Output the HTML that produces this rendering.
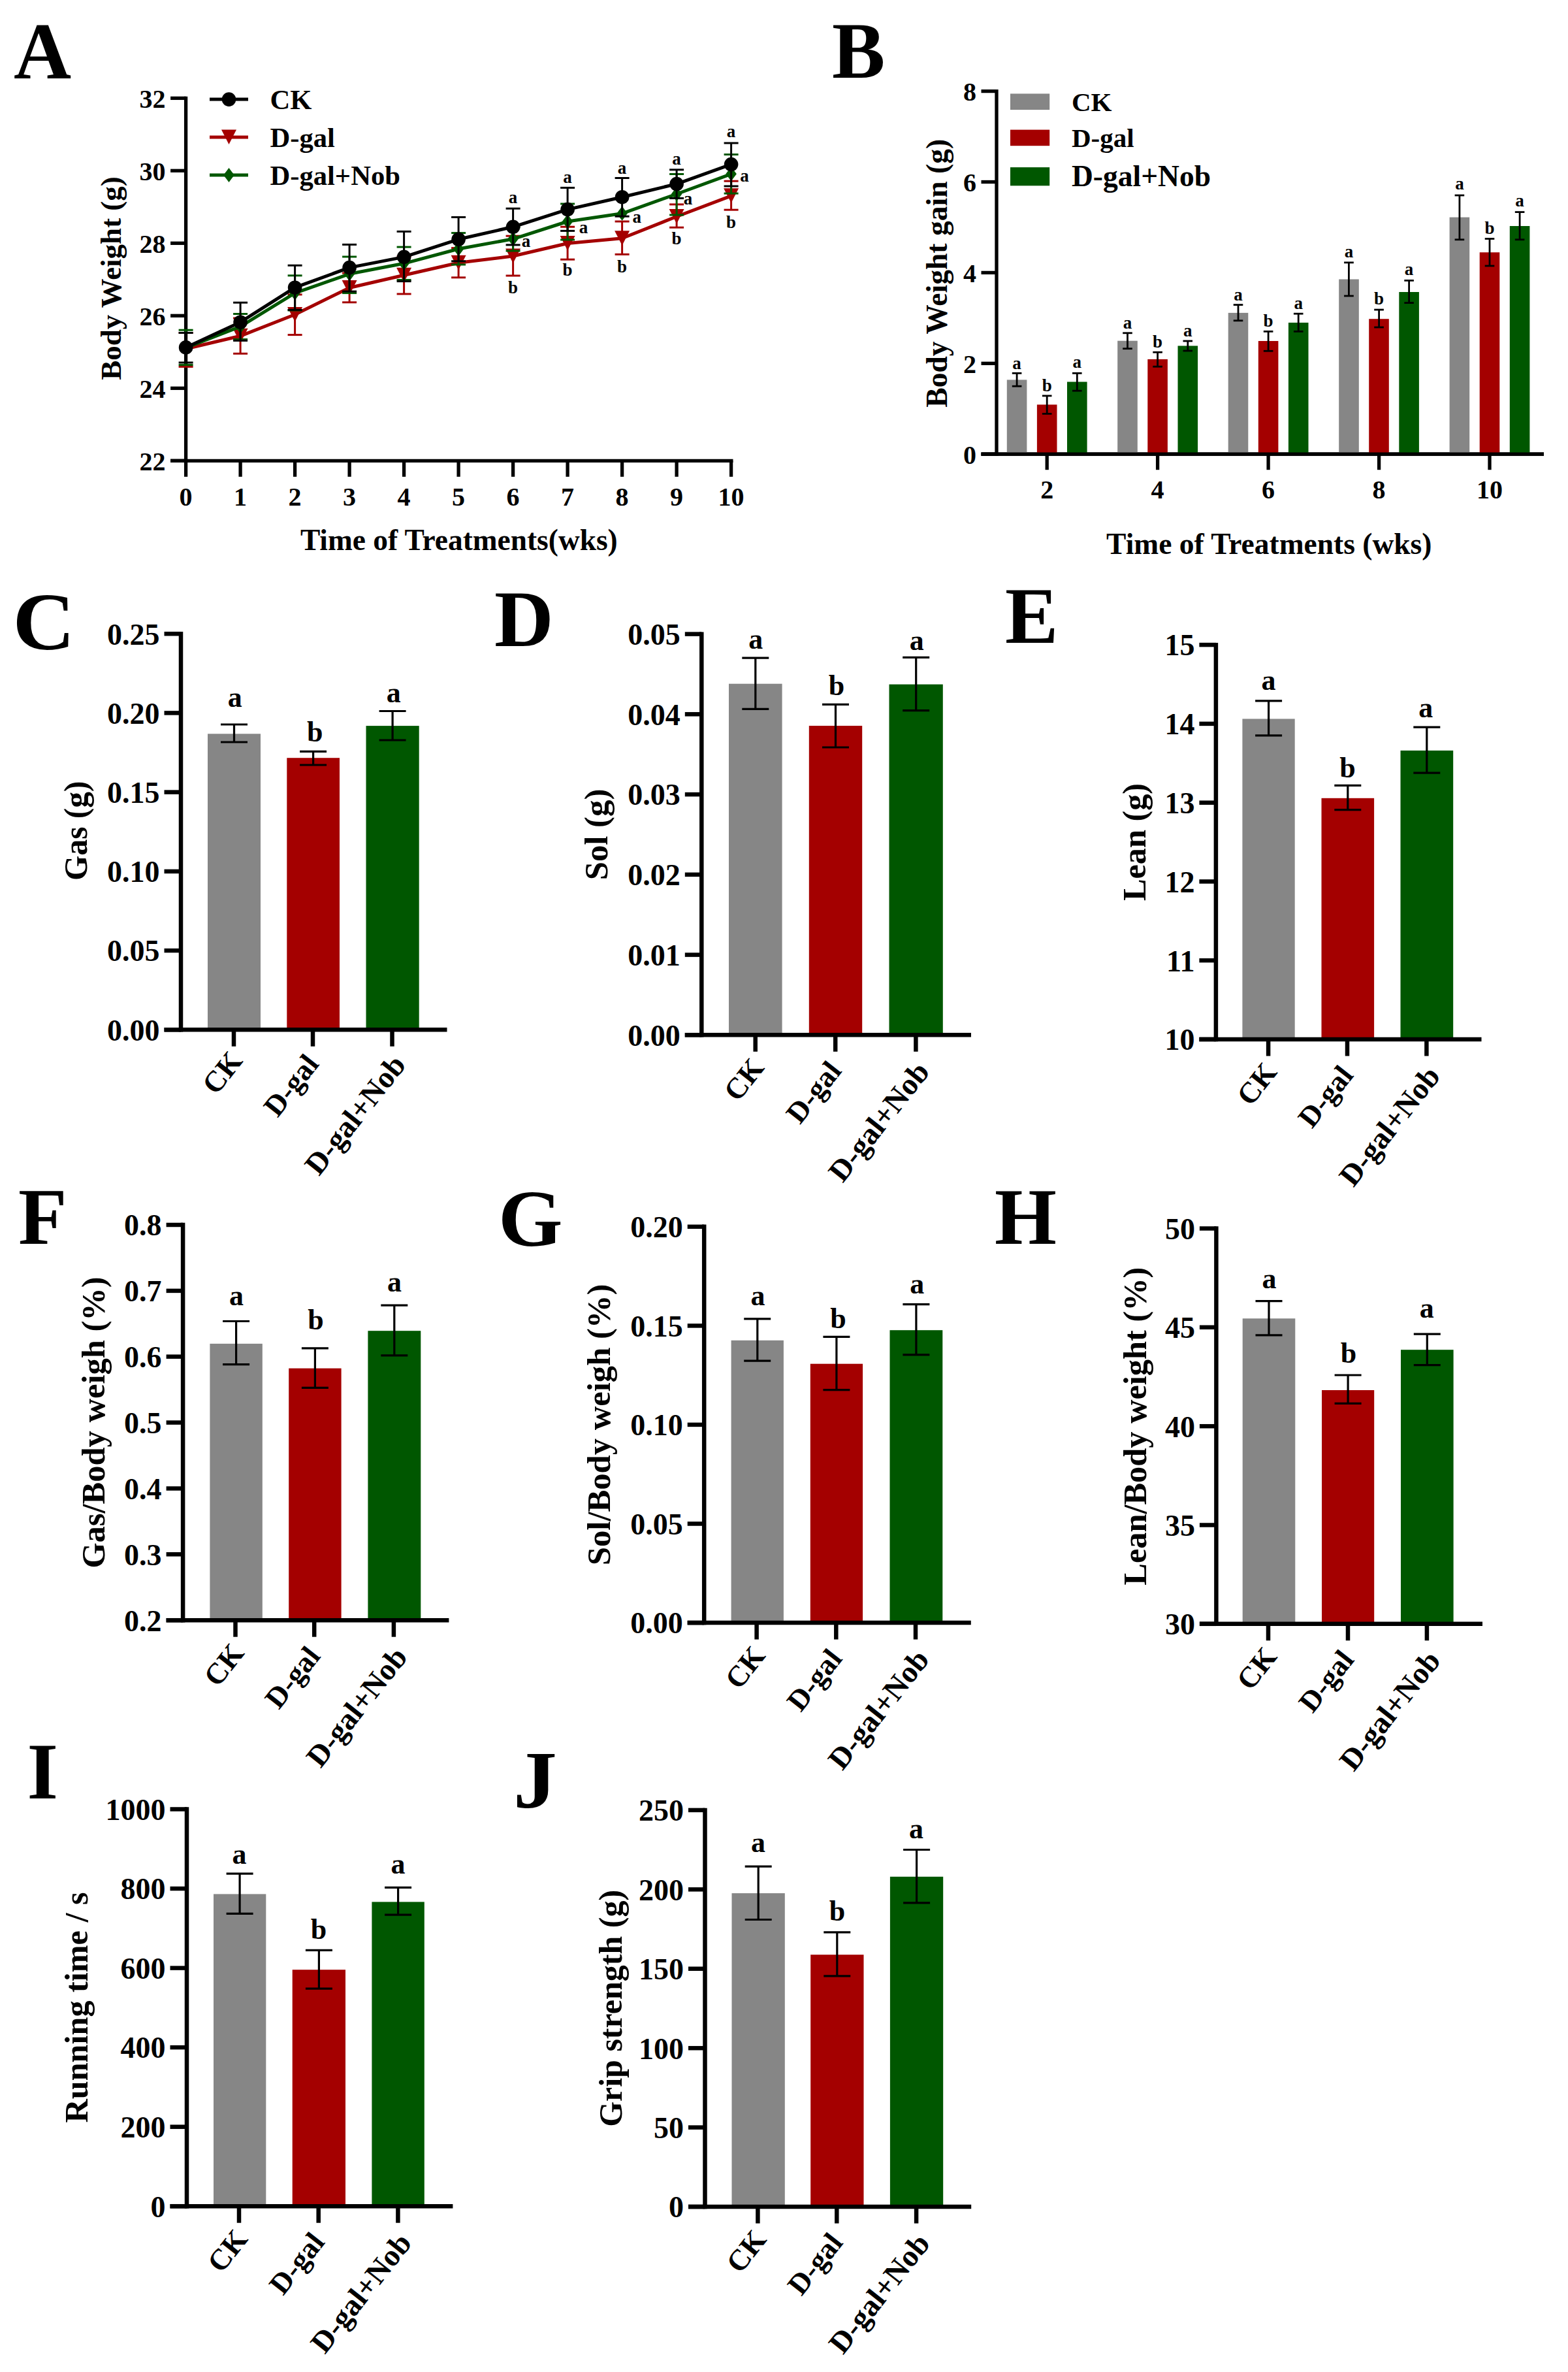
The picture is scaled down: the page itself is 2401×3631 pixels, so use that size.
<!DOCTYPE html>
<html lang="en"><head><meta charset="utf-8"><title>Figure</title>
<style>html,body{margin:0;padding:0;background:#fff}svg{display:block}</style></head>
<body>
<svg width="2401" height="3631" viewBox="0 0 2401 3631" font-family="'Liberation Serif', serif" font-weight="bold">
<text x="21" y="120" font-size="122" text-anchor="start" fill="#000">A</text>
<text x="1274" y="118.6" font-size="122" text-anchor="start" fill="#000">B</text>
<text x="19.5" y="993.5" font-size="125" text-anchor="start" fill="#000" textLength="95.2" lengthAdjust="spacingAndGlyphs">C</text>
<text x="757" y="989" font-size="122" text-anchor="start" fill="#000" textLength="90.7" lengthAdjust="spacingAndGlyphs">D</text>
<text x="1539" y="983.6" font-size="122" text-anchor="start" fill="#000">E</text>
<text x="28" y="1904" font-size="122" text-anchor="start" fill="#000">F</text>
<text x="763" y="1906.5" font-size="123" text-anchor="start" fill="#000" textLength="98.6" lengthAdjust="spacingAndGlyphs">G</text>
<text x="1523" y="1904" font-size="122" text-anchor="start" fill="#000">H</text>
<text x="41.5" y="2753.4" font-size="122" text-anchor="start" fill="#000">I</text>
<text x="786" y="2767" font-size="125" text-anchor="start" fill="#000" textLength="66.9" lengthAdjust="spacingAndGlyphs">J</text>
<line x1="284.6" y1="147.7" x2="284.6" y2="707.9" stroke="#000" stroke-width="5.3" stroke-linecap="butt"/>
<line x1="261.1" y1="705.3" x2="1122.5" y2="705.3" stroke="#000" stroke-width="5.3" stroke-linecap="butt"/>
<line x1="261.1" y1="150.3" x2="284.6" y2="150.3" stroke="#000" stroke-width="5.3" stroke-linecap="butt"/>
<text x="253.6" y="164.8" font-size="40" text-anchor="end" fill="#000">32</text>
<line x1="261.1" y1="261.3" x2="284.6" y2="261.3" stroke="#000" stroke-width="5.3" stroke-linecap="butt"/>
<text x="253.6" y="275.8" font-size="40" text-anchor="end" fill="#000">30</text>
<line x1="261.1" y1="372.3" x2="284.6" y2="372.3" stroke="#000" stroke-width="5.3" stroke-linecap="butt"/>
<text x="253.6" y="386.8" font-size="40" text-anchor="end" fill="#000">28</text>
<line x1="261.1" y1="483.3" x2="284.6" y2="483.3" stroke="#000" stroke-width="5.3" stroke-linecap="butt"/>
<text x="253.6" y="497.8" font-size="40" text-anchor="end" fill="#000">26</text>
<line x1="261.1" y1="594.3" x2="284.6" y2="594.3" stroke="#000" stroke-width="5.3" stroke-linecap="butt"/>
<text x="253.6" y="608.8" font-size="40" text-anchor="end" fill="#000">24</text>
<line x1="261.1" y1="705.3" x2="284.6" y2="705.3" stroke="#000" stroke-width="5.3" stroke-linecap="butt"/>
<text x="253.6" y="719.8" font-size="40" text-anchor="end" fill="#000">22</text>
<line x1="284.6" y1="705.3" x2="284.6" y2="729.8" stroke="#000" stroke-width="5.3" stroke-linecap="butt"/>
<text x="284.6" y="773.7" font-size="40" text-anchor="middle" fill="#000">0</text>
<line x1="368.1" y1="705.3" x2="368.1" y2="729.8" stroke="#000" stroke-width="5.3" stroke-linecap="butt"/>
<text x="368.1" y="773.7" font-size="40" text-anchor="middle" fill="#000">1</text>
<line x1="451.6" y1="705.3" x2="451.6" y2="729.8" stroke="#000" stroke-width="5.3" stroke-linecap="butt"/>
<text x="451.6" y="773.7" font-size="40" text-anchor="middle" fill="#000">2</text>
<line x1="535.1" y1="705.3" x2="535.1" y2="729.8" stroke="#000" stroke-width="5.3" stroke-linecap="butt"/>
<text x="535.1" y="773.7" font-size="40" text-anchor="middle" fill="#000">3</text>
<line x1="618.6" y1="705.3" x2="618.6" y2="729.8" stroke="#000" stroke-width="5.3" stroke-linecap="butt"/>
<text x="618.6" y="773.7" font-size="40" text-anchor="middle" fill="#000">4</text>
<line x1="702.1" y1="705.3" x2="702.1" y2="729.8" stroke="#000" stroke-width="5.3" stroke-linecap="butt"/>
<text x="702.1" y="773.7" font-size="40" text-anchor="middle" fill="#000">5</text>
<line x1="785.6" y1="705.3" x2="785.6" y2="729.8" stroke="#000" stroke-width="5.3" stroke-linecap="butt"/>
<text x="785.6" y="773.7" font-size="40" text-anchor="middle" fill="#000">6</text>
<line x1="869.1" y1="705.3" x2="869.1" y2="729.8" stroke="#000" stroke-width="5.3" stroke-linecap="butt"/>
<text x="869.1" y="773.7" font-size="40" text-anchor="middle" fill="#000">7</text>
<line x1="952.6" y1="705.3" x2="952.6" y2="729.8" stroke="#000" stroke-width="5.3" stroke-linecap="butt"/>
<text x="952.6" y="773.7" font-size="40" text-anchor="middle" fill="#000">8</text>
<line x1="1036.1" y1="705.3" x2="1036.1" y2="729.8" stroke="#000" stroke-width="5.3" stroke-linecap="butt"/>
<text x="1036.1" y="773.7" font-size="40" text-anchor="middle" fill="#000">9</text>
<line x1="1119.6" y1="705.3" x2="1119.6" y2="729.8" stroke="#000" stroke-width="5.3" stroke-linecap="butt"/>
<text x="1119.6" y="773.7" font-size="40" text-anchor="middle" fill="#000">10</text>
<text x="702.8" y="842" font-size="45.4" text-anchor="middle" fill="#000">Time of Treatments(wks)</text>
<text x="0" y="0" font-size="45" text-anchor="middle" fill="#000" transform="translate(185 426) rotate(-90)">Body Weight (g)</text>
<line x1="284.6" y1="509.5" x2="284.6" y2="561.4" stroke="#A40000" stroke-width="3" stroke-linecap="butt"/>
<line x1="273.6" y1="509.5" x2="295.6" y2="509.5" stroke="#A40000" stroke-width="3" stroke-linecap="butt"/>
<line x1="273.6" y1="561.4" x2="295.6" y2="561.4" stroke="#A40000" stroke-width="3" stroke-linecap="butt"/>
<line x1="368.1" y1="487" x2="368.1" y2="541.3" stroke="#A40000" stroke-width="3" stroke-linecap="butt"/>
<line x1="357.1" y1="487" x2="379.1" y2="487" stroke="#A40000" stroke-width="3" stroke-linecap="butt"/>
<line x1="357.1" y1="541.3" x2="379.1" y2="541.3" stroke="#A40000" stroke-width="3" stroke-linecap="butt"/>
<line x1="451.6" y1="450.9" x2="451.6" y2="512.6" stroke="#A40000" stroke-width="3" stroke-linecap="butt"/>
<line x1="440.6" y1="450.9" x2="462.6" y2="450.9" stroke="#A40000" stroke-width="3" stroke-linecap="butt"/>
<line x1="440.6" y1="512.6" x2="462.6" y2="512.6" stroke="#A40000" stroke-width="3" stroke-linecap="butt"/>
<line x1="535.1" y1="418" x2="535.1" y2="462.8" stroke="#A40000" stroke-width="3" stroke-linecap="butt"/>
<line x1="524.1" y1="418" x2="546.1" y2="418" stroke="#A40000" stroke-width="3" stroke-linecap="butt"/>
<line x1="524.1" y1="462.8" x2="546.1" y2="462.8" stroke="#A40000" stroke-width="3" stroke-linecap="butt"/>
<line x1="618.6" y1="392.5" x2="618.6" y2="450" stroke="#A40000" stroke-width="3" stroke-linecap="butt"/>
<line x1="607.6" y1="392.5" x2="629.6" y2="392.5" stroke="#A40000" stroke-width="3" stroke-linecap="butt"/>
<line x1="607.6" y1="450" x2="629.6" y2="450" stroke="#A40000" stroke-width="3" stroke-linecap="butt"/>
<line x1="702.1" y1="379.6" x2="702.1" y2="424.8" stroke="#A40000" stroke-width="3" stroke-linecap="butt"/>
<line x1="691.1" y1="379.6" x2="713.1" y2="379.6" stroke="#A40000" stroke-width="3" stroke-linecap="butt"/>
<line x1="691.1" y1="424.8" x2="713.1" y2="424.8" stroke="#A40000" stroke-width="3" stroke-linecap="butt"/>
<line x1="785.6" y1="361.2" x2="785.6" y2="422" stroke="#A40000" stroke-width="3" stroke-linecap="butt"/>
<line x1="774.6" y1="361.2" x2="796.6" y2="361.2" stroke="#A40000" stroke-width="3" stroke-linecap="butt"/>
<line x1="774.6" y1="422" x2="796.6" y2="422" stroke="#A40000" stroke-width="3" stroke-linecap="butt"/>
<line x1="869.1" y1="347.2" x2="869.1" y2="397.2" stroke="#A40000" stroke-width="3" stroke-linecap="butt"/>
<line x1="858.1" y1="347.2" x2="880.1" y2="347.2" stroke="#A40000" stroke-width="3" stroke-linecap="butt"/>
<line x1="858.1" y1="397.2" x2="880.1" y2="397.2" stroke="#A40000" stroke-width="3" stroke-linecap="butt"/>
<line x1="952.6" y1="339" x2="952.6" y2="389.4" stroke="#A40000" stroke-width="3" stroke-linecap="butt"/>
<line x1="941.6" y1="339" x2="963.6" y2="339" stroke="#A40000" stroke-width="3" stroke-linecap="butt"/>
<line x1="941.6" y1="389.4" x2="963.6" y2="389.4" stroke="#A40000" stroke-width="3" stroke-linecap="butt"/>
<line x1="1036.1" y1="312.9" x2="1036.1" y2="348.2" stroke="#A40000" stroke-width="3" stroke-linecap="butt"/>
<line x1="1025.1" y1="312.9" x2="1047.1" y2="312.9" stroke="#A40000" stroke-width="3" stroke-linecap="butt"/>
<line x1="1025.1" y1="348.2" x2="1047.1" y2="348.2" stroke="#A40000" stroke-width="3" stroke-linecap="butt"/>
<line x1="1119.6" y1="277.2" x2="1119.6" y2="321.2" stroke="#A40000" stroke-width="3" stroke-linecap="butt"/>
<line x1="1108.6" y1="277.2" x2="1130.6" y2="277.2" stroke="#A40000" stroke-width="3" stroke-linecap="butt"/>
<line x1="1108.6" y1="321.2" x2="1130.6" y2="321.2" stroke="#A40000" stroke-width="3" stroke-linecap="butt"/>
<polyline points="284.6,534 368.1,514.3 451.6,481.5 535.1,440.5 618.6,421.3 702.1,402.3 785.6,392 869.1,372.5 952.6,364.8 1036.1,331.5 1119.6,299.8" fill="none" stroke="#A40000" stroke-width="5" stroke-linejoin="round"/>
<polygon points="356.6,502.8 379.6,502.8 368.1,525.3" fill="#A40000"/>
<polygon points="440.1,470 463.1,470 451.6,492.5" fill="#A40000"/>
<polygon points="523.6,429 546.6,429 535.1,451.5" fill="#A40000"/>
<polygon points="607.1,409.8 630.1,409.8 618.6,432.3" fill="#A40000"/>
<polygon points="690.6,390.8 713.6,390.8 702.1,413.3" fill="#A40000"/>
<polygon points="774.1,380.5 797.1,380.5 785.6,403" fill="#A40000"/>
<polygon points="857.6,361 880.6,361 869.1,383.5" fill="#A40000"/>
<polygon points="941.1,353.3 964.1,353.3 952.6,375.8" fill="#A40000"/>
<polygon points="1024.6,320 1047.6,320 1036.1,342.5" fill="#A40000"/>
<polygon points="1108.1,288.3 1131.1,288.3 1119.6,310.8" fill="#A40000"/>
<line x1="284.6" y1="505.2" x2="284.6" y2="558.6" stroke="#005700" stroke-width="3" stroke-linecap="butt"/>
<line x1="273.6" y1="505.2" x2="295.6" y2="505.2" stroke="#005700" stroke-width="3" stroke-linecap="butt"/>
<line x1="273.6" y1="558.6" x2="295.6" y2="558.6" stroke="#005700" stroke-width="3" stroke-linecap="butt"/>
<line x1="368.1" y1="480.5" x2="368.1" y2="519.5" stroke="#005700" stroke-width="3" stroke-linecap="butt"/>
<line x1="357.1" y1="480.5" x2="379.1" y2="480.5" stroke="#005700" stroke-width="3" stroke-linecap="butt"/>
<line x1="357.1" y1="519.5" x2="379.1" y2="519.5" stroke="#005700" stroke-width="3" stroke-linecap="butt"/>
<line x1="451.6" y1="421.8" x2="451.6" y2="475" stroke="#005700" stroke-width="3" stroke-linecap="butt"/>
<line x1="440.6" y1="421.8" x2="462.6" y2="421.8" stroke="#005700" stroke-width="3" stroke-linecap="butt"/>
<line x1="440.6" y1="475" x2="462.6" y2="475" stroke="#005700" stroke-width="3" stroke-linecap="butt"/>
<line x1="535.1" y1="393" x2="535.1" y2="448.6" stroke="#005700" stroke-width="3" stroke-linecap="butt"/>
<line x1="524.1" y1="393" x2="546.1" y2="393" stroke="#005700" stroke-width="3" stroke-linecap="butt"/>
<line x1="524.1" y1="448.6" x2="546.1" y2="448.6" stroke="#005700" stroke-width="3" stroke-linecap="butt"/>
<line x1="618.6" y1="378.1" x2="618.6" y2="428.5" stroke="#005700" stroke-width="3" stroke-linecap="butt"/>
<line x1="607.6" y1="378.1" x2="629.6" y2="378.1" stroke="#005700" stroke-width="3" stroke-linecap="butt"/>
<line x1="607.6" y1="428.5" x2="629.6" y2="428.5" stroke="#005700" stroke-width="3" stroke-linecap="butt"/>
<line x1="702.1" y1="356.6" x2="702.1" y2="405" stroke="#005700" stroke-width="3" stroke-linecap="butt"/>
<line x1="691.1" y1="356.6" x2="713.1" y2="356.6" stroke="#005700" stroke-width="3" stroke-linecap="butt"/>
<line x1="691.1" y1="405" x2="713.1" y2="405" stroke="#005700" stroke-width="3" stroke-linecap="butt"/>
<line x1="785.6" y1="348" x2="785.6" y2="384" stroke="#005700" stroke-width="3" stroke-linecap="butt"/>
<line x1="774.6" y1="348" x2="796.6" y2="348" stroke="#005700" stroke-width="3" stroke-linecap="butt"/>
<line x1="774.6" y1="384" x2="796.6" y2="384" stroke="#005700" stroke-width="3" stroke-linecap="butt"/>
<line x1="869.1" y1="312" x2="869.1" y2="367" stroke="#005700" stroke-width="3" stroke-linecap="butt"/>
<line x1="858.1" y1="312" x2="880.1" y2="312" stroke="#005700" stroke-width="3" stroke-linecap="butt"/>
<line x1="858.1" y1="367" x2="880.1" y2="367" stroke="#005700" stroke-width="3" stroke-linecap="butt"/>
<line x1="1036.1" y1="266.5" x2="1036.1" y2="329" stroke="#005700" stroke-width="3" stroke-linecap="butt"/>
<line x1="1025.1" y1="266.5" x2="1047.1" y2="266.5" stroke="#005700" stroke-width="3" stroke-linecap="butt"/>
<line x1="1025.1" y1="329" x2="1047.1" y2="329" stroke="#005700" stroke-width="3" stroke-linecap="butt"/>
<line x1="1119.6" y1="236.5" x2="1119.6" y2="296.1" stroke="#005700" stroke-width="3" stroke-linecap="butt"/>
<line x1="1108.6" y1="236.5" x2="1130.6" y2="236.5" stroke="#005700" stroke-width="3" stroke-linecap="butt"/>
<line x1="1108.6" y1="296.1" x2="1130.6" y2="296.1" stroke="#005700" stroke-width="3" stroke-linecap="butt"/>
<polyline points="284.6,532.5 368.1,499.8 451.6,448.6 535.1,419.3 618.6,403.3 702.1,381 785.6,365.8 869.1,339 952.6,326.8 1036.1,297 1119.6,266.3" fill="none" stroke="#005700" stroke-width="5" stroke-linejoin="round"/>
<polygon points="359.8,499.8 368.1,488.8 376.4,499.8 368.1,510.8" fill="#005700"/>
<polygon points="443.3,448.6 451.6,437.6 459.9,448.6 451.6,459.6" fill="#005700"/>
<polygon points="526.8,419.3 535.1,408.3 543.4,419.3 535.1,430.3" fill="#005700"/>
<polygon points="610.3,403.3 618.6,392.3 626.9,403.3 618.6,414.3" fill="#005700"/>
<polygon points="693.8,381 702.1,370 710.4,381 702.1,392" fill="#005700"/>
<polygon points="777.3,365.8 785.6,354.8 793.9,365.8 785.6,376.8" fill="#005700"/>
<polygon points="860.8,339 869.1,328 877.4,339 869.1,350" fill="#005700"/>
<polygon points="944.3,326.8 952.6,315.8 960.9,326.8 952.6,337.8" fill="#005700"/>
<polygon points="1027.8,297 1036.1,286 1044.4,297 1036.1,308" fill="#005700"/>
<polygon points="1111.3,266.3 1119.6,255.3 1127.9,266.3 1119.6,277.3" fill="#005700"/>
<line x1="284.6" y1="509.5" x2="284.6" y2="555" stroke="#000" stroke-width="3" stroke-linecap="butt"/>
<line x1="273.6" y1="509.5" x2="295.6" y2="509.5" stroke="#000" stroke-width="3" stroke-linecap="butt"/>
<line x1="273.6" y1="555" x2="295.6" y2="555" stroke="#000" stroke-width="3" stroke-linecap="butt"/>
<line x1="368.1" y1="463.2" x2="368.1" y2="521.4" stroke="#000" stroke-width="3" stroke-linecap="butt"/>
<line x1="357.1" y1="463.2" x2="379.1" y2="463.2" stroke="#000" stroke-width="3" stroke-linecap="butt"/>
<line x1="357.1" y1="521.4" x2="379.1" y2="521.4" stroke="#000" stroke-width="3" stroke-linecap="butt"/>
<line x1="451.6" y1="406.3" x2="451.6" y2="474.4" stroke="#000" stroke-width="3" stroke-linecap="butt"/>
<line x1="440.6" y1="406.3" x2="462.6" y2="406.3" stroke="#000" stroke-width="3" stroke-linecap="butt"/>
<line x1="440.6" y1="474.4" x2="462.6" y2="474.4" stroke="#000" stroke-width="3" stroke-linecap="butt"/>
<line x1="535.1" y1="374.4" x2="535.1" y2="446.1" stroke="#000" stroke-width="3" stroke-linecap="butt"/>
<line x1="524.1" y1="374.4" x2="546.1" y2="374.4" stroke="#000" stroke-width="3" stroke-linecap="butt"/>
<line x1="524.1" y1="446.1" x2="546.1" y2="446.1" stroke="#000" stroke-width="3" stroke-linecap="butt"/>
<line x1="618.6" y1="354.4" x2="618.6" y2="430.6" stroke="#000" stroke-width="3" stroke-linecap="butt"/>
<line x1="607.6" y1="354.4" x2="629.6" y2="354.4" stroke="#000" stroke-width="3" stroke-linecap="butt"/>
<line x1="607.6" y1="430.6" x2="629.6" y2="430.6" stroke="#000" stroke-width="3" stroke-linecap="butt"/>
<line x1="702.1" y1="332.5" x2="702.1" y2="399.8" stroke="#000" stroke-width="3" stroke-linecap="butt"/>
<line x1="691.1" y1="332.5" x2="713.1" y2="332.5" stroke="#000" stroke-width="3" stroke-linecap="butt"/>
<line x1="691.1" y1="399.8" x2="713.1" y2="399.8" stroke="#000" stroke-width="3" stroke-linecap="butt"/>
<line x1="785.6" y1="319.2" x2="785.6" y2="374.9" stroke="#000" stroke-width="3" stroke-linecap="butt"/>
<line x1="774.6" y1="319.2" x2="796.6" y2="319.2" stroke="#000" stroke-width="3" stroke-linecap="butt"/>
<line x1="774.6" y1="374.9" x2="796.6" y2="374.9" stroke="#000" stroke-width="3" stroke-linecap="butt"/>
<line x1="869.1" y1="287.4" x2="869.1" y2="353.4" stroke="#000" stroke-width="3" stroke-linecap="butt"/>
<line x1="858.1" y1="287.4" x2="880.1" y2="287.4" stroke="#000" stroke-width="3" stroke-linecap="butt"/>
<line x1="858.1" y1="353.4" x2="880.1" y2="353.4" stroke="#000" stroke-width="3" stroke-linecap="butt"/>
<line x1="952.6" y1="272.5" x2="952.6" y2="331.2" stroke="#000" stroke-width="3" stroke-linecap="butt"/>
<line x1="941.6" y1="272.5" x2="963.6" y2="272.5" stroke="#000" stroke-width="3" stroke-linecap="butt"/>
<line x1="941.6" y1="331.2" x2="963.6" y2="331.2" stroke="#000" stroke-width="3" stroke-linecap="butt"/>
<line x1="1036.1" y1="259.8" x2="1036.1" y2="303.5" stroke="#000" stroke-width="3" stroke-linecap="butt"/>
<line x1="1025.1" y1="259.8" x2="1047.1" y2="259.8" stroke="#000" stroke-width="3" stroke-linecap="butt"/>
<line x1="1025.1" y1="303.5" x2="1047.1" y2="303.5" stroke="#000" stroke-width="3" stroke-linecap="butt"/>
<line x1="1119.6" y1="219" x2="1119.6" y2="285" stroke="#000" stroke-width="3" stroke-linecap="butt"/>
<line x1="1108.6" y1="219" x2="1130.6" y2="219" stroke="#000" stroke-width="3" stroke-linecap="butt"/>
<line x1="1108.6" y1="285" x2="1130.6" y2="285" stroke="#000" stroke-width="3" stroke-linecap="butt"/>
<polyline points="284.6,531.9 368.1,493.2 451.6,440.2 535.1,409.6 618.6,393.4 702.1,366.3 785.6,347.3 869.1,320.6 952.6,301.7 1036.1,281.6 1119.6,251.6" fill="none" stroke="#000" stroke-width="5" stroke-linejoin="round"/>
<circle cx="284.6" cy="531.9" r="10.8" fill="#000"/>
<circle cx="368.1" cy="493.2" r="10.8" fill="#000"/>
<circle cx="451.6" cy="440.2" r="10.8" fill="#000"/>
<circle cx="535.1" cy="409.6" r="10.8" fill="#000"/>
<circle cx="618.6" cy="393.4" r="10.8" fill="#000"/>
<circle cx="702.1" cy="366.3" r="10.8" fill="#000"/>
<circle cx="785.6" cy="347.3" r="10.8" fill="#000"/>
<circle cx="869.1" cy="320.6" r="10.8" fill="#000"/>
<circle cx="952.6" cy="301.7" r="10.8" fill="#000"/>
<circle cx="1036.1" cy="281.6" r="10.8" fill="#000"/>
<circle cx="1119.6" cy="251.6" r="10.8" fill="#000"/>
<text x="785.6" y="310.6" font-size="27" text-anchor="middle" fill="#000">a</text>
<text x="869.1" y="279.8" font-size="27" text-anchor="middle" fill="#000">a</text>
<text x="952.6" y="265.5" font-size="27" text-anchor="middle" fill="#000">a</text>
<text x="1036.1" y="252.2" font-size="27" text-anchor="middle" fill="#000">a</text>
<text x="1119.6" y="210.4" font-size="27" text-anchor="middle" fill="#000">a</text>
<text x="805.5" y="378" font-size="27" text-anchor="middle" fill="#000">a</text>
<text x="893.5" y="357" font-size="27" text-anchor="middle" fill="#000">a</text>
<text x="975.2" y="341.4" font-size="27" text-anchor="middle" fill="#000">a</text>
<text x="1053.6" y="312.5" font-size="27" text-anchor="middle" fill="#000">a</text>
<text x="1140" y="278.2" font-size="27" text-anchor="middle" fill="#000">a</text>
<text x="785.6" y="448.8" font-size="27" text-anchor="middle" fill="#000">b</text>
<text x="869.1" y="421.7" font-size="27" text-anchor="middle" fill="#000">b</text>
<text x="952.6" y="417" font-size="27" text-anchor="middle" fill="#000">b</text>
<text x="1036.1" y="373.7" font-size="27" text-anchor="middle" fill="#000">b</text>
<text x="1119.6" y="348.8" font-size="27" text-anchor="middle" fill="#000">b</text>
<line x1="321" y1="152.1" x2="380" y2="152.1" stroke="#000" stroke-width="5" stroke-linecap="butt"/>
<circle cx="350.5" cy="152.1" r="10.8" fill="#000"/>
<text x="413.5" y="167.1" font-size="42.6" text-anchor="start" fill="#000">CK</text>
<line x1="321" y1="210.1" x2="380" y2="210.1" stroke="#A40000" stroke-width="5" stroke-linecap="butt"/>
<polygon points="339,198.6 362,198.6 350.5,221.1" fill="#A40000"/>
<text x="413.5" y="225.1" font-size="42.6" text-anchor="start" fill="#000">D-gal</text>
<line x1="321" y1="268.1" x2="380" y2="268.1" stroke="#005700" stroke-width="5" stroke-linecap="butt"/>
<polygon points="342.2,268.1 350.5,257.1 358.8,268.1 350.5,279.1" fill="#005700"/>
<text x="413.5" y="283.1" font-size="42.6" text-anchor="start" fill="#000">D-gal+Nob</text>
<line x1="1526" y1="136.9" x2="1526" y2="697.9" stroke="#000" stroke-width="5.3" stroke-linecap="butt"/>
<line x1="1502.5" y1="695.2" x2="2364" y2="695.2" stroke="#000" stroke-width="5.3" stroke-linecap="butt"/>
<line x1="1502.5" y1="139.6" x2="1526" y2="139.6" stroke="#000" stroke-width="5.3" stroke-linecap="butt"/>
<text x="1495" y="153.9" font-size="40" text-anchor="end" fill="#000">8</text>
<line x1="1502.5" y1="278.5" x2="1526" y2="278.5" stroke="#000" stroke-width="5.3" stroke-linecap="butt"/>
<text x="1495" y="292.8" font-size="40" text-anchor="end" fill="#000">6</text>
<line x1="1502.5" y1="417.4" x2="1526" y2="417.4" stroke="#000" stroke-width="5.3" stroke-linecap="butt"/>
<text x="1495" y="431.7" font-size="40" text-anchor="end" fill="#000">4</text>
<line x1="1502.5" y1="556.3" x2="1526" y2="556.3" stroke="#000" stroke-width="5.3" stroke-linecap="butt"/>
<text x="1495" y="570.6" font-size="40" text-anchor="end" fill="#000">2</text>
<line x1="1502.5" y1="695.2" x2="1526" y2="695.2" stroke="#000" stroke-width="5.3" stroke-linecap="butt"/>
<text x="1495" y="709.5" font-size="40" text-anchor="end" fill="#000">0</text>
<rect x="1541.8" y="581.4" width="30.6" height="113.8" fill="#868686"/>
<line x1="1557.1" y1="571.3" x2="1557.1" y2="591.2" stroke="#000" stroke-width="2.8" stroke-linecap="butt"/>
<line x1="1549.8" y1="571.3" x2="1564.4" y2="571.3" stroke="#000" stroke-width="2.8" stroke-linecap="butt"/>
<line x1="1549.8" y1="591.2" x2="1564.4" y2="591.2" stroke="#000" stroke-width="2.8" stroke-linecap="butt"/>
<text x="1557.1" y="564.8" font-size="27" text-anchor="middle" fill="#000">a</text>
<rect x="1587.9" y="619.4" width="30.6" height="75.8" fill="#A40000"/>
<line x1="1603.2" y1="605.9" x2="1603.2" y2="633.4" stroke="#000" stroke-width="2.8" stroke-linecap="butt"/>
<line x1="1595.9" y1="605.9" x2="1610.5" y2="605.9" stroke="#000" stroke-width="2.8" stroke-linecap="butt"/>
<line x1="1595.9" y1="633.4" x2="1610.5" y2="633.4" stroke="#000" stroke-width="2.8" stroke-linecap="butt"/>
<text x="1603.2" y="598.9" font-size="27" text-anchor="middle" fill="#000">b</text>
<rect x="1634" y="584.5" width="30.6" height="110.7" fill="#005700"/>
<line x1="1649.3" y1="571.3" x2="1649.3" y2="598.2" stroke="#000" stroke-width="2.8" stroke-linecap="butt"/>
<line x1="1642" y1="571.3" x2="1656.6" y2="571.3" stroke="#000" stroke-width="2.8" stroke-linecap="butt"/>
<line x1="1642" y1="598.2" x2="1656.6" y2="598.2" stroke="#000" stroke-width="2.8" stroke-linecap="butt"/>
<text x="1649.3" y="562.8" font-size="27" text-anchor="middle" fill="#000">a</text>
<line x1="1603.2" y1="695.2" x2="1603.2" y2="719.2" stroke="#000" stroke-width="5.3" stroke-linecap="butt"/>
<text x="1603.2" y="762.6" font-size="40" text-anchor="middle" fill="#000">2</text>
<rect x="1711.2" y="521.7" width="30.6" height="173.5" fill="#868686"/>
<line x1="1726.5" y1="509.8" x2="1726.5" y2="533.7" stroke="#000" stroke-width="2.8" stroke-linecap="butt"/>
<line x1="1719.2" y1="509.8" x2="1733.8" y2="509.8" stroke="#000" stroke-width="2.8" stroke-linecap="butt"/>
<line x1="1719.2" y1="533.7" x2="1733.8" y2="533.7" stroke="#000" stroke-width="2.8" stroke-linecap="butt"/>
<text x="1726.5" y="502.8" font-size="27" text-anchor="middle" fill="#000">a</text>
<rect x="1757.3" y="549.9" width="30.6" height="145.3" fill="#A40000"/>
<line x1="1772.6" y1="539.2" x2="1772.6" y2="561.2" stroke="#000" stroke-width="2.8" stroke-linecap="butt"/>
<line x1="1765.3" y1="539.2" x2="1779.9" y2="539.2" stroke="#000" stroke-width="2.8" stroke-linecap="butt"/>
<line x1="1765.3" y1="561.2" x2="1779.9" y2="561.2" stroke="#000" stroke-width="2.8" stroke-linecap="butt"/>
<text x="1772.6" y="532.2" font-size="27" text-anchor="middle" fill="#000">b</text>
<rect x="1803.5" y="529.4" width="30.6" height="165.8" fill="#005700"/>
<line x1="1818.8" y1="522" x2="1818.8" y2="537" stroke="#000" stroke-width="2.8" stroke-linecap="butt"/>
<line x1="1811.5" y1="522" x2="1826" y2="522" stroke="#000" stroke-width="2.8" stroke-linecap="butt"/>
<line x1="1811.5" y1="537" x2="1826" y2="537" stroke="#000" stroke-width="2.8" stroke-linecap="butt"/>
<text x="1818.8" y="515" font-size="27" text-anchor="middle" fill="#000">a</text>
<line x1="1772.6" y1="695.2" x2="1772.6" y2="719.2" stroke="#000" stroke-width="5.3" stroke-linecap="butt"/>
<text x="1772.6" y="762.6" font-size="40" text-anchor="middle" fill="#000">4</text>
<rect x="1880.7" y="478.9" width="30.6" height="216.3" fill="#868686"/>
<line x1="1896" y1="466.6" x2="1896" y2="490.8" stroke="#000" stroke-width="2.8" stroke-linecap="butt"/>
<line x1="1888.7" y1="466.6" x2="1903.3" y2="466.6" stroke="#000" stroke-width="2.8" stroke-linecap="butt"/>
<line x1="1888.7" y1="490.8" x2="1903.3" y2="490.8" stroke="#000" stroke-width="2.8" stroke-linecap="butt"/>
<text x="1896" y="459.6" font-size="27" text-anchor="middle" fill="#000">a</text>
<rect x="1926.8" y="522" width="30.6" height="173.2" fill="#A40000"/>
<line x1="1942.1" y1="507.4" x2="1942.1" y2="537.3" stroke="#000" stroke-width="2.8" stroke-linecap="butt"/>
<line x1="1934.8" y1="507.4" x2="1949.4" y2="507.4" stroke="#000" stroke-width="2.8" stroke-linecap="butt"/>
<line x1="1934.8" y1="537.3" x2="1949.4" y2="537.3" stroke="#000" stroke-width="2.8" stroke-linecap="butt"/>
<text x="1942.1" y="500.4" font-size="27" text-anchor="middle" fill="#000">b</text>
<rect x="1972.9" y="493.9" width="30.6" height="201.3" fill="#005700"/>
<line x1="1988.2" y1="480.2" x2="1988.2" y2="507.4" stroke="#000" stroke-width="2.8" stroke-linecap="butt"/>
<line x1="1980.9" y1="480.2" x2="1995.5" y2="480.2" stroke="#000" stroke-width="2.8" stroke-linecap="butt"/>
<line x1="1980.9" y1="507.4" x2="1995.5" y2="507.4" stroke="#000" stroke-width="2.8" stroke-linecap="butt"/>
<text x="1988.2" y="473.2" font-size="27" text-anchor="middle" fill="#000">a</text>
<line x1="1942.1" y1="695.2" x2="1942.1" y2="719.2" stroke="#000" stroke-width="5.3" stroke-linecap="butt"/>
<text x="1942.1" y="762.6" font-size="40" text-anchor="middle" fill="#000">6</text>
<rect x="2050.2" y="427.5" width="30.6" height="267.7" fill="#868686"/>
<line x1="2065.4" y1="401.9" x2="2065.4" y2="453" stroke="#000" stroke-width="2.8" stroke-linecap="butt"/>
<line x1="2058.1" y1="401.9" x2="2072.8" y2="401.9" stroke="#000" stroke-width="2.8" stroke-linecap="butt"/>
<line x1="2058.1" y1="453" x2="2072.8" y2="453" stroke="#000" stroke-width="2.8" stroke-linecap="butt"/>
<text x="2065.4" y="393.9" font-size="27" text-anchor="middle" fill="#000">a</text>
<rect x="2096.2" y="488.2" width="30.6" height="207" fill="#A40000"/>
<line x1="2111.6" y1="474.1" x2="2111.6" y2="501" stroke="#000" stroke-width="2.8" stroke-linecap="butt"/>
<line x1="2104.2" y1="474.1" x2="2118.9" y2="474.1" stroke="#000" stroke-width="2.8" stroke-linecap="butt"/>
<line x1="2104.2" y1="501" x2="2118.9" y2="501" stroke="#000" stroke-width="2.8" stroke-linecap="butt"/>
<text x="2111.6" y="466.1" font-size="27" text-anchor="middle" fill="#000">b</text>
<rect x="2142.3" y="447" width="30.6" height="248.2" fill="#005700"/>
<line x1="2157.6" y1="429.4" x2="2157.6" y2="463.6" stroke="#000" stroke-width="2.8" stroke-linecap="butt"/>
<line x1="2150.3" y1="429.4" x2="2164.9" y2="429.4" stroke="#000" stroke-width="2.8" stroke-linecap="butt"/>
<line x1="2150.3" y1="463.6" x2="2164.9" y2="463.6" stroke="#000" stroke-width="2.8" stroke-linecap="butt"/>
<text x="2157.6" y="421.4" font-size="27" text-anchor="middle" fill="#000">a</text>
<line x1="2111.6" y1="695.2" x2="2111.6" y2="719.2" stroke="#000" stroke-width="5.3" stroke-linecap="butt"/>
<text x="2111.6" y="762.6" font-size="40" text-anchor="middle" fill="#000">8</text>
<rect x="2219.6" y="332.6" width="30.6" height="362.6" fill="#868686"/>
<line x1="2234.9" y1="299" x2="2234.9" y2="366.8" stroke="#000" stroke-width="2.8" stroke-linecap="butt"/>
<line x1="2227.6" y1="299" x2="2242.2" y2="299" stroke="#000" stroke-width="2.8" stroke-linecap="butt"/>
<line x1="2227.6" y1="366.8" x2="2242.2" y2="366.8" stroke="#000" stroke-width="2.8" stroke-linecap="butt"/>
<text x="2234.9" y="289.5" font-size="27" text-anchor="middle" fill="#000">a</text>
<rect x="2265.7" y="386.3" width="30.6" height="308.9" fill="#A40000"/>
<line x1="2281" y1="365.5" x2="2281" y2="407" stroke="#000" stroke-width="2.8" stroke-linecap="butt"/>
<line x1="2273.7" y1="365.5" x2="2288.3" y2="365.5" stroke="#000" stroke-width="2.8" stroke-linecap="butt"/>
<line x1="2273.7" y1="407" x2="2288.3" y2="407" stroke="#000" stroke-width="2.8" stroke-linecap="butt"/>
<text x="2281" y="357.5" font-size="27" text-anchor="middle" fill="#000">b</text>
<rect x="2311.8" y="346" width="30.6" height="349.2" fill="#005700"/>
<line x1="2327.1" y1="324.6" x2="2327.1" y2="366.8" stroke="#000" stroke-width="2.8" stroke-linecap="butt"/>
<line x1="2319.8" y1="324.6" x2="2334.4" y2="324.6" stroke="#000" stroke-width="2.8" stroke-linecap="butt"/>
<line x1="2319.8" y1="366.8" x2="2334.4" y2="366.8" stroke="#000" stroke-width="2.8" stroke-linecap="butt"/>
<text x="2327.1" y="315.6" font-size="27" text-anchor="middle" fill="#000">a</text>
<line x1="2281" y1="695.2" x2="2281" y2="719.2" stroke="#000" stroke-width="5.3" stroke-linecap="butt"/>
<text x="2281" y="762.6" font-size="40" text-anchor="middle" fill="#000">10</text>
<line x1="1502.5" y1="695.2" x2="2364" y2="695.2" stroke="#000" stroke-width="5.3" stroke-linecap="butt"/>
<text x="1943.3" y="847.5" font-size="45.5" text-anchor="middle" fill="#000">Time of Treatments (wks)</text>
<text x="0" y="0" font-size="45.6" text-anchor="middle" fill="#000" transform="translate(1449.5 418.3) rotate(-90)">Body Weight gain (g)</text>
<rect x="1547" y="143.4" width="60.2" height="24.7" fill="#868686"/>
<rect x="1547" y="198.6" width="60.2" height="24.6" fill="#A40000"/>
<rect x="1547" y="256.1" width="60.2" height="28.2" fill="#005700"/>
<text x="1641" y="170.4" font-size="41" text-anchor="start" fill="#000">CK</text>
<text x="1641" y="224.7" font-size="41" text-anchor="start" fill="#000">D-gal</text>
<text x="1641" y="285.4" font-size="45.5" text-anchor="start" fill="#000">D-gal+Nob</text>
<rect x="318" y="1123.3" width="81" height="453" fill="#868686"/>
<rect x="439.3" y="1160.2" width="80.7" height="416.1" fill="#A40000"/>
<rect x="560.5" y="1111.1" width="81.2" height="465.2" fill="#005700"/>
<line x1="277" y1="967" x2="277" y2="1579.5" stroke="#000" stroke-width="6.5" stroke-linecap="butt"/>
<line x1="251.5" y1="1576.3" x2="684.5" y2="1576.3" stroke="#000" stroke-width="6.5" stroke-linecap="butt"/>
<line x1="251.5" y1="970.2" x2="277" y2="970.2" stroke="#000" stroke-width="6.5" stroke-linecap="butt"/>
<text x="244.5" y="986.5" font-size="46" text-anchor="end" fill="#000">0.25</text>
<line x1="251.5" y1="1091.4" x2="277" y2="1091.4" stroke="#000" stroke-width="6.5" stroke-linecap="butt"/>
<text x="244.5" y="1107.7" font-size="46" text-anchor="end" fill="#000">0.20</text>
<line x1="251.5" y1="1212.6" x2="277" y2="1212.6" stroke="#000" stroke-width="6.5" stroke-linecap="butt"/>
<text x="244.5" y="1228.9" font-size="46" text-anchor="end" fill="#000">0.15</text>
<line x1="251.5" y1="1333.9" x2="277" y2="1333.9" stroke="#000" stroke-width="6.5" stroke-linecap="butt"/>
<text x="244.5" y="1350.2" font-size="46" text-anchor="end" fill="#000">0.10</text>
<line x1="251.5" y1="1455.1" x2="277" y2="1455.1" stroke="#000" stroke-width="6.5" stroke-linecap="butt"/>
<text x="244.5" y="1471.4" font-size="46" text-anchor="end" fill="#000">0.05</text>
<line x1="251.5" y1="1576.3" x2="277" y2="1576.3" stroke="#000" stroke-width="6.5" stroke-linecap="butt"/>
<text x="244.5" y="1592.6" font-size="46" text-anchor="end" fill="#000">0.00</text>
<line x1="358.5" y1="1109" x2="358.5" y2="1136" stroke="#000" stroke-width="3.2" stroke-linecap="butt"/>
<line x1="338" y1="1109" x2="379" y2="1109" stroke="#000" stroke-width="3.2" stroke-linecap="butt"/>
<line x1="338" y1="1136" x2="379" y2="1136" stroke="#000" stroke-width="3.2" stroke-linecap="butt"/>
<line x1="479.6" y1="1150.3" x2="479.6" y2="1171" stroke="#000" stroke-width="3.2" stroke-linecap="butt"/>
<line x1="459.1" y1="1150.3" x2="500.1" y2="1150.3" stroke="#000" stroke-width="3.2" stroke-linecap="butt"/>
<line x1="459.1" y1="1171" x2="500.1" y2="1171" stroke="#000" stroke-width="3.2" stroke-linecap="butt"/>
<line x1="601.1" y1="1088.5" x2="601.1" y2="1133" stroke="#000" stroke-width="3.2" stroke-linecap="butt"/>
<line x1="580.6" y1="1088.5" x2="621.6" y2="1088.5" stroke="#000" stroke-width="3.2" stroke-linecap="butt"/>
<line x1="580.6" y1="1133" x2="621.6" y2="1133" stroke="#000" stroke-width="3.2" stroke-linecap="butt"/>
<text x="359.8" y="1082.3" font-size="44" text-anchor="middle" fill="#000">a</text>
<text x="482.3" y="1134.5" font-size="44" text-anchor="middle" fill="#000">b</text>
<text x="602.7" y="1074.7" font-size="44" text-anchor="middle" fill="#000">a</text>
<line x1="358" y1="1576.3" x2="358" y2="1601.8" stroke="#000" stroke-width="6.5" stroke-linecap="butt"/>
<text x="0" y="0" font-size="45" text-anchor="end" fill="#000" transform="translate(372.9 1624.9) rotate(-51.7)">CK</text>
<line x1="479" y1="1576.3" x2="479" y2="1601.8" stroke="#000" stroke-width="6.5" stroke-linecap="butt"/>
<text x="0" y="0" font-size="45" text-anchor="end" fill="#000" transform="translate(490 1629.5) rotate(-51.7)">D-gal</text>
<line x1="600.5" y1="1576.3" x2="600.5" y2="1601.8" stroke="#000" stroke-width="6.5" stroke-linecap="butt"/>
<text x="0" y="0" font-size="46.5" text-anchor="end" fill="#000" transform="translate(623.4 1630.7) rotate(-51.7)">D-gal+Nob</text>
<text x="0" y="0" font-size="51.5" text-anchor="middle" fill="#000" transform="translate(132.6 1271.8) rotate(-90)" textLength="152.5" lengthAdjust="spacingAndGlyphs">Gas (g)</text>
<rect x="1116" y="1046.7" width="81.6" height="537.6" fill="#868686"/>
<rect x="1238.8" y="1111" width="81.4" height="473.3" fill="#A40000"/>
<rect x="1361.5" y="1047.6" width="82.3" height="536.7" fill="#005700"/>
<line x1="1074.3" y1="967.4" x2="1074.3" y2="1587.5" stroke="#000" stroke-width="6.5" stroke-linecap="butt"/>
<line x1="1048.8" y1="1584.3" x2="1487" y2="1584.3" stroke="#000" stroke-width="6.5" stroke-linecap="butt"/>
<line x1="1048.8" y1="970.6" x2="1074.3" y2="970.6" stroke="#000" stroke-width="6.5" stroke-linecap="butt"/>
<text x="1041.8" y="986.9" font-size="46" text-anchor="end" fill="#000">0.05</text>
<line x1="1048.8" y1="1093.3" x2="1074.3" y2="1093.3" stroke="#000" stroke-width="6.5" stroke-linecap="butt"/>
<text x="1041.8" y="1109.6" font-size="46" text-anchor="end" fill="#000">0.04</text>
<line x1="1048.8" y1="1216.1" x2="1074.3" y2="1216.1" stroke="#000" stroke-width="6.5" stroke-linecap="butt"/>
<text x="1041.8" y="1232.4" font-size="46" text-anchor="end" fill="#000">0.03</text>
<line x1="1048.8" y1="1338.8" x2="1074.3" y2="1338.8" stroke="#000" stroke-width="6.5" stroke-linecap="butt"/>
<text x="1041.8" y="1355.1" font-size="46" text-anchor="end" fill="#000">0.02</text>
<line x1="1048.8" y1="1461.6" x2="1074.3" y2="1461.6" stroke="#000" stroke-width="6.5" stroke-linecap="butt"/>
<text x="1041.8" y="1477.9" font-size="46" text-anchor="end" fill="#000">0.01</text>
<line x1="1048.8" y1="1584.3" x2="1074.3" y2="1584.3" stroke="#000" stroke-width="6.5" stroke-linecap="butt"/>
<text x="1041.8" y="1600.6" font-size="46" text-anchor="end" fill="#000">0.00</text>
<line x1="1156.8" y1="1007.2" x2="1156.8" y2="1085.3" stroke="#000" stroke-width="3.2" stroke-linecap="butt"/>
<line x1="1136.3" y1="1007.2" x2="1177.3" y2="1007.2" stroke="#000" stroke-width="3.2" stroke-linecap="butt"/>
<line x1="1136.3" y1="1085.3" x2="1177.3" y2="1085.3" stroke="#000" stroke-width="3.2" stroke-linecap="butt"/>
<line x1="1279.5" y1="1078.4" x2="1279.5" y2="1144" stroke="#000" stroke-width="3.2" stroke-linecap="butt"/>
<line x1="1259" y1="1078.4" x2="1300" y2="1078.4" stroke="#000" stroke-width="3.2" stroke-linecap="butt"/>
<line x1="1259" y1="1144" x2="1300" y2="1144" stroke="#000" stroke-width="3.2" stroke-linecap="butt"/>
<line x1="1402.7" y1="1006.3" x2="1402.7" y2="1087.6" stroke="#000" stroke-width="3.2" stroke-linecap="butt"/>
<line x1="1382.2" y1="1006.3" x2="1423.2" y2="1006.3" stroke="#000" stroke-width="3.2" stroke-linecap="butt"/>
<line x1="1382.2" y1="1087.6" x2="1423.2" y2="1087.6" stroke="#000" stroke-width="3.2" stroke-linecap="butt"/>
<text x="1157.2" y="992.5" font-size="44" text-anchor="middle" fill="#000">a</text>
<text x="1281" y="1063.7" font-size="44" text-anchor="middle" fill="#000">b</text>
<text x="1403.8" y="994.8" font-size="44" text-anchor="middle" fill="#000">a</text>
<line x1="1156.7" y1="1584.3" x2="1156.7" y2="1609.8" stroke="#000" stroke-width="6.5" stroke-linecap="butt"/>
<text x="0" y="0" font-size="45" text-anchor="end" fill="#000" transform="translate(1171.6 1635.4) rotate(-51.7)">CK</text>
<line x1="1279.2" y1="1584.3" x2="1279.2" y2="1609.8" stroke="#000" stroke-width="6.5" stroke-linecap="butt"/>
<text x="0" y="0" font-size="45" text-anchor="end" fill="#000" transform="translate(1290.2 1640) rotate(-51.7)">D-gal</text>
<line x1="1402.4" y1="1584.3" x2="1402.4" y2="1609.8" stroke="#000" stroke-width="6.5" stroke-linecap="butt"/>
<text x="0" y="0" font-size="46.5" text-anchor="end" fill="#000" transform="translate(1425.3 1641.2) rotate(-51.7)">D-gal+Nob</text>
<text x="0" y="0" font-size="51.5" text-anchor="middle" fill="#000" transform="translate(929.6 1277.5) rotate(-90)" textLength="139.6" lengthAdjust="spacingAndGlyphs">Sol (g)</text>
<rect x="1902.4" y="1100.4" width="80.3" height="490.6" fill="#868686"/>
<rect x="2023.5" y="1221.8" width="80.6" height="369.2" fill="#A40000"/>
<rect x="2144.5" y="1148.9" width="80.7" height="442.1" fill="#005700"/>
<line x1="1861.9" y1="983.9" x2="1861.9" y2="1594.2" stroke="#000" stroke-width="6.5" stroke-linecap="butt"/>
<line x1="1836.4" y1="1591" x2="2268.5" y2="1591" stroke="#000" stroke-width="6.5" stroke-linecap="butt"/>
<line x1="1836.4" y1="987.1" x2="1861.9" y2="987.1" stroke="#000" stroke-width="6.5" stroke-linecap="butt"/>
<text x="1829.4" y="1003.4" font-size="46" text-anchor="end" fill="#000">15</text>
<line x1="1836.4" y1="1107.9" x2="1861.9" y2="1107.9" stroke="#000" stroke-width="6.5" stroke-linecap="butt"/>
<text x="1829.4" y="1124.2" font-size="46" text-anchor="end" fill="#000">14</text>
<line x1="1836.4" y1="1228.7" x2="1861.9" y2="1228.7" stroke="#000" stroke-width="6.5" stroke-linecap="butt"/>
<text x="1829.4" y="1245" font-size="46" text-anchor="end" fill="#000">13</text>
<line x1="1836.4" y1="1349.4" x2="1861.9" y2="1349.4" stroke="#000" stroke-width="6.5" stroke-linecap="butt"/>
<text x="1829.4" y="1365.7" font-size="46" text-anchor="end" fill="#000">12</text>
<line x1="1836.4" y1="1470.2" x2="1861.9" y2="1470.2" stroke="#000" stroke-width="6.5" stroke-linecap="butt"/>
<text x="1829.4" y="1486.5" font-size="46" text-anchor="end" fill="#000">11</text>
<line x1="1836.4" y1="1591" x2="1861.9" y2="1591" stroke="#000" stroke-width="6.5" stroke-linecap="butt"/>
<text x="1829.4" y="1607.3" font-size="46" text-anchor="end" fill="#000">10</text>
<line x1="1942.6" y1="1072.9" x2="1942.6" y2="1125.9" stroke="#000" stroke-width="3.2" stroke-linecap="butt"/>
<line x1="1922.1" y1="1072.9" x2="1963.1" y2="1072.9" stroke="#000" stroke-width="3.2" stroke-linecap="butt"/>
<line x1="1922.1" y1="1125.9" x2="1963.1" y2="1125.9" stroke="#000" stroke-width="3.2" stroke-linecap="butt"/>
<line x1="2063.8" y1="1202.4" x2="2063.8" y2="1239.7" stroke="#000" stroke-width="3.2" stroke-linecap="butt"/>
<line x1="2043.3" y1="1202.4" x2="2084.3" y2="1202.4" stroke="#000" stroke-width="3.2" stroke-linecap="butt"/>
<line x1="2043.3" y1="1239.7" x2="2084.3" y2="1239.7" stroke="#000" stroke-width="3.2" stroke-linecap="butt"/>
<line x1="2184.8" y1="1113.2" x2="2184.8" y2="1183.1" stroke="#000" stroke-width="3.2" stroke-linecap="butt"/>
<line x1="2164.3" y1="1113.2" x2="2205.3" y2="1113.2" stroke="#000" stroke-width="3.2" stroke-linecap="butt"/>
<line x1="2164.3" y1="1183.1" x2="2205.3" y2="1183.1" stroke="#000" stroke-width="3.2" stroke-linecap="butt"/>
<text x="1942.4" y="1056" font-size="44" text-anchor="middle" fill="#000">a</text>
<text x="2063.4" y="1190.2" font-size="44" text-anchor="middle" fill="#000">b</text>
<text x="2183.3" y="1098.4" font-size="44" text-anchor="middle" fill="#000">a</text>
<line x1="1942.1" y1="1591" x2="1942.1" y2="1616.5" stroke="#000" stroke-width="6.5" stroke-linecap="butt"/>
<text x="0" y="0" font-size="45" text-anchor="end" fill="#000" transform="translate(1957 1642.1) rotate(-51.7)">CK</text>
<line x1="2063" y1="1591" x2="2063" y2="1616.5" stroke="#000" stroke-width="6.5" stroke-linecap="butt"/>
<text x="0" y="0" font-size="45" text-anchor="end" fill="#000" transform="translate(2074 1646.7) rotate(-51.7)">D-gal</text>
<line x1="2184.4" y1="1591" x2="2184.4" y2="1616.5" stroke="#000" stroke-width="6.5" stroke-linecap="butt"/>
<text x="0" y="0" font-size="46.5" text-anchor="end" fill="#000" transform="translate(2207.3 1647.9) rotate(-51.7)">D-gal+Nob</text>
<text x="0" y="0" font-size="51" text-anchor="middle" fill="#000" transform="translate(1754.4 1289) rotate(-90)" textLength="180" lengthAdjust="spacingAndGlyphs">Lean (g)</text>
<rect x="321.4" y="2056.9" width="80.4" height="423.3" fill="#868686"/>
<rect x="442.2" y="2094.6" width="80.4" height="385.6" fill="#A40000"/>
<rect x="563.4" y="2037.2" width="80.9" height="443" fill="#005700"/>
<line x1="280.1" y1="1871.8" x2="280.1" y2="2483.4" stroke="#000" stroke-width="6.5" stroke-linecap="butt"/>
<line x1="254.6" y1="2480.2" x2="687.4" y2="2480.2" stroke="#000" stroke-width="6.5" stroke-linecap="butt"/>
<line x1="254.6" y1="1875" x2="280.1" y2="1875" stroke="#000" stroke-width="6.5" stroke-linecap="butt"/>
<text x="247.6" y="1891.3" font-size="46" text-anchor="end" fill="#000">0.8</text>
<line x1="254.6" y1="1975.9" x2="280.1" y2="1975.9" stroke="#000" stroke-width="6.5" stroke-linecap="butt"/>
<text x="247.6" y="1992.2" font-size="46" text-anchor="end" fill="#000">0.7</text>
<line x1="254.6" y1="2076.7" x2="280.1" y2="2076.7" stroke="#000" stroke-width="6.5" stroke-linecap="butt"/>
<text x="247.6" y="2093" font-size="46" text-anchor="end" fill="#000">0.6</text>
<line x1="254.6" y1="2177.6" x2="280.1" y2="2177.6" stroke="#000" stroke-width="6.5" stroke-linecap="butt"/>
<text x="247.6" y="2193.9" font-size="46" text-anchor="end" fill="#000">0.5</text>
<line x1="254.6" y1="2278.5" x2="280.1" y2="2278.5" stroke="#000" stroke-width="6.5" stroke-linecap="butt"/>
<text x="247.6" y="2294.8" font-size="46" text-anchor="end" fill="#000">0.4</text>
<line x1="254.6" y1="2379.3" x2="280.1" y2="2379.3" stroke="#000" stroke-width="6.5" stroke-linecap="butt"/>
<text x="247.6" y="2395.6" font-size="46" text-anchor="end" fill="#000">0.3</text>
<line x1="254.6" y1="2480.2" x2="280.1" y2="2480.2" stroke="#000" stroke-width="6.5" stroke-linecap="butt"/>
<text x="247.6" y="2496.5" font-size="46" text-anchor="end" fill="#000">0.2</text>
<line x1="361.6" y1="2022.5" x2="361.6" y2="2088.6" stroke="#000" stroke-width="3.2" stroke-linecap="butt"/>
<line x1="341.1" y1="2022.5" x2="382.1" y2="2022.5" stroke="#000" stroke-width="3.2" stroke-linecap="butt"/>
<line x1="341.1" y1="2088.6" x2="382.1" y2="2088.6" stroke="#000" stroke-width="3.2" stroke-linecap="butt"/>
<line x1="482.4" y1="2063.8" x2="482.4" y2="2124.4" stroke="#000" stroke-width="3.2" stroke-linecap="butt"/>
<line x1="461.9" y1="2063.8" x2="502.9" y2="2063.8" stroke="#000" stroke-width="3.2" stroke-linecap="butt"/>
<line x1="461.9" y1="2124.4" x2="502.9" y2="2124.4" stroke="#000" stroke-width="3.2" stroke-linecap="butt"/>
<line x1="603.8" y1="1998.1" x2="603.8" y2="2074.8" stroke="#000" stroke-width="3.2" stroke-linecap="butt"/>
<line x1="583.3" y1="1998.1" x2="624.3" y2="1998.1" stroke="#000" stroke-width="3.2" stroke-linecap="butt"/>
<line x1="583.3" y1="2074.8" x2="624.3" y2="2074.8" stroke="#000" stroke-width="3.2" stroke-linecap="butt"/>
<text x="361.9" y="1998.1" font-size="44" text-anchor="middle" fill="#000">a</text>
<text x="483.5" y="2034.9" font-size="44" text-anchor="middle" fill="#000">b</text>
<text x="603.9" y="1976.5" font-size="44" text-anchor="middle" fill="#000">a</text>
<line x1="360.5" y1="2480.2" x2="360.5" y2="2505.7" stroke="#000" stroke-width="6.5" stroke-linecap="butt"/>
<text x="0" y="0" font-size="45" text-anchor="end" fill="#000" transform="translate(375.4 2531.3) rotate(-51.7)">CK</text>
<line x1="481.2" y1="2480.2" x2="481.2" y2="2505.7" stroke="#000" stroke-width="6.5" stroke-linecap="butt"/>
<text x="0" y="0" font-size="45" text-anchor="end" fill="#000" transform="translate(492.2 2535.9) rotate(-51.7)">D-gal</text>
<line x1="602.9" y1="2480.2" x2="602.9" y2="2505.7" stroke="#000" stroke-width="6.5" stroke-linecap="butt"/>
<text x="0" y="0" font-size="46.5" text-anchor="end" fill="#000" transform="translate(625.8 2537.1) rotate(-51.7)">D-gal+Nob</text>
<text x="0" y="0" font-size="50.5" text-anchor="middle" fill="#000" transform="translate(160 2177.6) rotate(-90)" textLength="446.5" lengthAdjust="spacingAndGlyphs">Gas/Body weigh (%)</text>
<rect x="1119.6" y="2051.8" width="80.3" height="432.3" fill="#868686"/>
<rect x="1240.8" y="2087.7" width="80.3" height="396.4" fill="#A40000"/>
<rect x="1362.5" y="2036.2" width="80.8" height="447.9" fill="#005700"/>
<line x1="1078.2" y1="1874.5" x2="1078.2" y2="2487.3" stroke="#000" stroke-width="6.5" stroke-linecap="butt"/>
<line x1="1052.7" y1="2484.1" x2="1486.8" y2="2484.1" stroke="#000" stroke-width="6.5" stroke-linecap="butt"/>
<line x1="1052.7" y1="1877.8" x2="1078.2" y2="1877.8" stroke="#000" stroke-width="6.5" stroke-linecap="butt"/>
<text x="1045.7" y="1894.1" font-size="46" text-anchor="end" fill="#000">0.20</text>
<line x1="1052.7" y1="2029.4" x2="1078.2" y2="2029.4" stroke="#000" stroke-width="6.5" stroke-linecap="butt"/>
<text x="1045.7" y="2045.7" font-size="46" text-anchor="end" fill="#000">0.15</text>
<line x1="1052.7" y1="2180.9" x2="1078.2" y2="2180.9" stroke="#000" stroke-width="6.5" stroke-linecap="butt"/>
<text x="1045.7" y="2197.2" font-size="46" text-anchor="end" fill="#000">0.10</text>
<line x1="1052.7" y1="2332.5" x2="1078.2" y2="2332.5" stroke="#000" stroke-width="6.5" stroke-linecap="butt"/>
<text x="1045.7" y="2348.8" font-size="46" text-anchor="end" fill="#000">0.05</text>
<line x1="1052.7" y1="2484.1" x2="1078.2" y2="2484.1" stroke="#000" stroke-width="6.5" stroke-linecap="butt"/>
<text x="1045.7" y="2500.4" font-size="46" text-anchor="end" fill="#000">0.00</text>
<line x1="1159.8" y1="2018.8" x2="1159.8" y2="2083.1" stroke="#000" stroke-width="3.2" stroke-linecap="butt"/>
<line x1="1139.2" y1="2018.8" x2="1180.2" y2="2018.8" stroke="#000" stroke-width="3.2" stroke-linecap="butt"/>
<line x1="1139.2" y1="2083.1" x2="1180.2" y2="2083.1" stroke="#000" stroke-width="3.2" stroke-linecap="butt"/>
<line x1="1280.9" y1="2046.3" x2="1280.9" y2="2127.6" stroke="#000" stroke-width="3.2" stroke-linecap="butt"/>
<line x1="1260.4" y1="2046.3" x2="1301.4" y2="2046.3" stroke="#000" stroke-width="3.2" stroke-linecap="butt"/>
<line x1="1260.4" y1="2127.6" x2="1301.4" y2="2127.6" stroke="#000" stroke-width="3.2" stroke-linecap="butt"/>
<line x1="1402.9" y1="1996.7" x2="1402.9" y2="2073.9" stroke="#000" stroke-width="3.2" stroke-linecap="butt"/>
<line x1="1382.4" y1="1996.7" x2="1423.4" y2="1996.7" stroke="#000" stroke-width="3.2" stroke-linecap="butt"/>
<line x1="1382.4" y1="2073.9" x2="1423.4" y2="2073.9" stroke="#000" stroke-width="3.2" stroke-linecap="butt"/>
<text x="1160.4" y="1998.1" font-size="44" text-anchor="middle" fill="#000">a</text>
<text x="1283.5" y="2032.6" font-size="44" text-anchor="middle" fill="#000">b</text>
<text x="1404.3" y="1979.8" font-size="44" text-anchor="middle" fill="#000">a</text>
<line x1="1158.6" y1="2484.1" x2="1158.6" y2="2509.6" stroke="#000" stroke-width="6.5" stroke-linecap="butt"/>
<text x="0" y="0" font-size="45" text-anchor="end" fill="#000" transform="translate(1173.5 2535.2) rotate(-51.7)">CK</text>
<line x1="1280.3" y1="2484.1" x2="1280.3" y2="2509.6" stroke="#000" stroke-width="6.5" stroke-linecap="butt"/>
<text x="0" y="0" font-size="45" text-anchor="end" fill="#000" transform="translate(1291.3 2539.8) rotate(-51.7)">D-gal</text>
<line x1="1402" y1="2484.1" x2="1402" y2="2509.6" stroke="#000" stroke-width="6.5" stroke-linecap="butt"/>
<text x="0" y="0" font-size="46.5" text-anchor="end" fill="#000" transform="translate(1424.9 2541) rotate(-51.7)">D-gal+Nob</text>
<text x="0" y="0" font-size="50.5" text-anchor="middle" fill="#000" transform="translate(934 2180.9) rotate(-90)" textLength="430.5" lengthAdjust="spacingAndGlyphs">Sol/Body weigh (%)</text>
<rect x="1902.7" y="2018.3" width="80.6" height="467.5" fill="#868686"/>
<rect x="2024" y="2128" width="80.2" height="357.8" fill="#A40000"/>
<rect x="2145" y="2066.2" width="80.6" height="419.6" fill="#005700"/>
<line x1="1862.4" y1="1877.2" x2="1862.4" y2="2489.1" stroke="#000" stroke-width="6.5" stroke-linecap="butt"/>
<line x1="1836.9" y1="2485.8" x2="2270" y2="2485.8" stroke="#000" stroke-width="6.5" stroke-linecap="butt"/>
<line x1="1836.9" y1="1880.5" x2="1862.4" y2="1880.5" stroke="#000" stroke-width="6.5" stroke-linecap="butt"/>
<text x="1829.9" y="1896.8" font-size="46" text-anchor="end" fill="#000">50</text>
<line x1="1836.9" y1="2031.8" x2="1862.4" y2="2031.8" stroke="#000" stroke-width="6.5" stroke-linecap="butt"/>
<text x="1829.9" y="2048.1" font-size="46" text-anchor="end" fill="#000">45</text>
<line x1="1836.9" y1="2183.2" x2="1862.4" y2="2183.2" stroke="#000" stroke-width="6.5" stroke-linecap="butt"/>
<text x="1829.9" y="2199.5" font-size="46" text-anchor="end" fill="#000">40</text>
<line x1="1836.9" y1="2334.5" x2="1862.4" y2="2334.5" stroke="#000" stroke-width="6.5" stroke-linecap="butt"/>
<text x="1829.9" y="2350.8" font-size="46" text-anchor="end" fill="#000">35</text>
<line x1="1836.9" y1="2485.8" x2="1862.4" y2="2485.8" stroke="#000" stroke-width="6.5" stroke-linecap="butt"/>
<text x="1829.9" y="2502.1" font-size="46" text-anchor="end" fill="#000">30</text>
<line x1="1943" y1="1991.7" x2="1943" y2="2043.8" stroke="#000" stroke-width="3.2" stroke-linecap="butt"/>
<line x1="1922.5" y1="1991.7" x2="1963.5" y2="1991.7" stroke="#000" stroke-width="3.2" stroke-linecap="butt"/>
<line x1="1922.5" y1="2043.8" x2="1963.5" y2="2043.8" stroke="#000" stroke-width="3.2" stroke-linecap="butt"/>
<line x1="2064.1" y1="2105" x2="2064.1" y2="2148.4" stroke="#000" stroke-width="3.2" stroke-linecap="butt"/>
<line x1="2043.6" y1="2105" x2="2084.6" y2="2105" stroke="#000" stroke-width="3.2" stroke-linecap="butt"/>
<line x1="2043.6" y1="2148.4" x2="2084.6" y2="2148.4" stroke="#000" stroke-width="3.2" stroke-linecap="butt"/>
<line x1="2185.3" y1="2042.2" x2="2185.3" y2="2089.7" stroke="#000" stroke-width="3.2" stroke-linecap="butt"/>
<line x1="2164.8" y1="2042.2" x2="2205.8" y2="2042.2" stroke="#000" stroke-width="3.2" stroke-linecap="butt"/>
<line x1="2164.8" y1="2089.7" x2="2205.8" y2="2089.7" stroke="#000" stroke-width="3.2" stroke-linecap="butt"/>
<text x="1943.5" y="1971.8" font-size="44" text-anchor="middle" fill="#000">a</text>
<text x="2064.9" y="2086.1" font-size="44" text-anchor="middle" fill="#000">b</text>
<text x="2184.8" y="2017.2" font-size="44" text-anchor="middle" fill="#000">a</text>
<line x1="1942" y1="2485.8" x2="1942" y2="2511.3" stroke="#000" stroke-width="6.5" stroke-linecap="butt"/>
<text x="0" y="0" font-size="45" text-anchor="end" fill="#000" transform="translate(1956.9 2536.9) rotate(-51.7)">CK</text>
<line x1="2064" y1="2485.8" x2="2064" y2="2511.3" stroke="#000" stroke-width="6.5" stroke-linecap="butt"/>
<text x="0" y="0" font-size="45" text-anchor="end" fill="#000" transform="translate(2075 2541.5) rotate(-51.7)">D-gal</text>
<line x1="2184.9" y1="2485.8" x2="2184.9" y2="2511.3" stroke="#000" stroke-width="6.5" stroke-linecap="butt"/>
<text x="0" y="0" font-size="46.5" text-anchor="end" fill="#000" transform="translate(2207.8 2542.7) rotate(-51.7)">D-gal+Nob</text>
<text x="0" y="0" font-size="50.5" text-anchor="middle" fill="#000" transform="translate(1755 2183.2) rotate(-90)" textLength="487" lengthAdjust="spacingAndGlyphs">Lean/Body weight (%)</text>
<rect x="327" y="2899.4" width="80.3" height="477.8" fill="#868686"/>
<rect x="447.7" y="3015.2" width="81.3" height="362" fill="#A40000"/>
<rect x="569.4" y="2911.4" width="80.4" height="465.8" fill="#005700"/>
<line x1="286" y1="2766.2" x2="286" y2="3380.4" stroke="#000" stroke-width="6.5" stroke-linecap="butt"/>
<line x1="260.5" y1="3377.2" x2="693.4" y2="3377.2" stroke="#000" stroke-width="6.5" stroke-linecap="butt"/>
<line x1="260.5" y1="2769.5" x2="286" y2="2769.5" stroke="#000" stroke-width="6.5" stroke-linecap="butt"/>
<text x="253.5" y="2785.8" font-size="46" text-anchor="end" fill="#000">1000</text>
<line x1="260.5" y1="2891" x2="286" y2="2891" stroke="#000" stroke-width="6.5" stroke-linecap="butt"/>
<text x="253.5" y="2907.3" font-size="46" text-anchor="end" fill="#000">800</text>
<line x1="260.5" y1="3012.6" x2="286" y2="3012.6" stroke="#000" stroke-width="6.5" stroke-linecap="butt"/>
<text x="253.5" y="3028.9" font-size="46" text-anchor="end" fill="#000">600</text>
<line x1="260.5" y1="3134.1" x2="286" y2="3134.1" stroke="#000" stroke-width="6.5" stroke-linecap="butt"/>
<text x="253.5" y="3150.4" font-size="46" text-anchor="end" fill="#000">400</text>
<line x1="260.5" y1="3255.7" x2="286" y2="3255.7" stroke="#000" stroke-width="6.5" stroke-linecap="butt"/>
<text x="253.5" y="3272" font-size="46" text-anchor="end" fill="#000">200</text>
<line x1="260.5" y1="3377.2" x2="286" y2="3377.2" stroke="#000" stroke-width="6.5" stroke-linecap="butt"/>
<text x="253.5" y="3393.5" font-size="46" text-anchor="end" fill="#000">0</text>
<line x1="367.1" y1="2868.2" x2="367.1" y2="2929.3" stroke="#000" stroke-width="3.2" stroke-linecap="butt"/>
<line x1="346.6" y1="2868.2" x2="387.6" y2="2868.2" stroke="#000" stroke-width="3.2" stroke-linecap="butt"/>
<line x1="346.6" y1="2929.3" x2="387.6" y2="2929.3" stroke="#000" stroke-width="3.2" stroke-linecap="butt"/>
<line x1="488.4" y1="2985.3" x2="488.4" y2="3044.1" stroke="#000" stroke-width="3.2" stroke-linecap="butt"/>
<line x1="467.9" y1="2985.3" x2="508.9" y2="2985.3" stroke="#000" stroke-width="3.2" stroke-linecap="butt"/>
<line x1="467.9" y1="3044.1" x2="508.9" y2="3044.1" stroke="#000" stroke-width="3.2" stroke-linecap="butt"/>
<line x1="609.6" y1="2889.3" x2="609.6" y2="2931.1" stroke="#000" stroke-width="3.2" stroke-linecap="butt"/>
<line x1="589.1" y1="2889.3" x2="630.1" y2="2889.3" stroke="#000" stroke-width="3.2" stroke-linecap="butt"/>
<line x1="589.1" y1="2931.1" x2="630.1" y2="2931.1" stroke="#000" stroke-width="3.2" stroke-linecap="butt"/>
<text x="366.4" y="2852.6" font-size="44" text-anchor="middle" fill="#000">a</text>
<text x="488.1" y="2968.3" font-size="44" text-anchor="middle" fill="#000">b</text>
<text x="609.4" y="2868.2" font-size="44" text-anchor="middle" fill="#000">a</text>
<line x1="366" y1="3377.2" x2="366" y2="3402.7" stroke="#000" stroke-width="6.5" stroke-linecap="butt"/>
<text x="0" y="0" font-size="45" text-anchor="end" fill="#000" transform="translate(380.9 3428.3) rotate(-51.7)">CK</text>
<line x1="487.7" y1="3377.2" x2="487.7" y2="3402.7" stroke="#000" stroke-width="6.5" stroke-linecap="butt"/>
<text x="0" y="0" font-size="45" text-anchor="end" fill="#000" transform="translate(498.7 3432.9) rotate(-51.7)">D-gal</text>
<line x1="609.4" y1="3377.2" x2="609.4" y2="3402.7" stroke="#000" stroke-width="6.5" stroke-linecap="butt"/>
<text x="0" y="0" font-size="46.5" text-anchor="end" fill="#000" transform="translate(632.3 3434.1) rotate(-51.7)">D-gal+Nob</text>
<text x="0" y="0" font-size="50.5" text-anchor="middle" fill="#000" transform="translate(133.5 3073) rotate(-90)" textLength="353" lengthAdjust="spacingAndGlyphs">Running time / s</text>
<rect x="1120.5" y="2898.1" width="81.3" height="479.9" fill="#868686"/>
<rect x="1241.2" y="2992.2" width="81.3" height="385.8" fill="#A40000"/>
<rect x="1362.9" y="2872.8" width="81.3" height="505.2" fill="#005700"/>
<line x1="1079.5" y1="2767.7" x2="1079.5" y2="3381.2" stroke="#000" stroke-width="6.5" stroke-linecap="butt"/>
<line x1="1054" y1="3378" x2="1487.2" y2="3378" stroke="#000" stroke-width="6.5" stroke-linecap="butt"/>
<line x1="1054" y1="2770.9" x2="1079.5" y2="2770.9" stroke="#000" stroke-width="6.5" stroke-linecap="butt"/>
<text x="1047" y="2787.2" font-size="46" text-anchor="end" fill="#000">250</text>
<line x1="1054" y1="2892.3" x2="1079.5" y2="2892.3" stroke="#000" stroke-width="6.5" stroke-linecap="butt"/>
<text x="1047" y="2908.6" font-size="46" text-anchor="end" fill="#000">200</text>
<line x1="1054" y1="3013.7" x2="1079.5" y2="3013.7" stroke="#000" stroke-width="6.5" stroke-linecap="butt"/>
<text x="1047" y="3030" font-size="46" text-anchor="end" fill="#000">150</text>
<line x1="1054" y1="3135.2" x2="1079.5" y2="3135.2" stroke="#000" stroke-width="6.5" stroke-linecap="butt"/>
<text x="1047" y="3151.5" font-size="46" text-anchor="end" fill="#000">100</text>
<line x1="1054" y1="3256.6" x2="1079.5" y2="3256.6" stroke="#000" stroke-width="6.5" stroke-linecap="butt"/>
<text x="1047" y="3272.9" font-size="46" text-anchor="end" fill="#000">50</text>
<line x1="1054" y1="3378" x2="1079.5" y2="3378" stroke="#000" stroke-width="6.5" stroke-linecap="butt"/>
<text x="1047" y="3394.3" font-size="46" text-anchor="end" fill="#000">0</text>
<line x1="1161.2" y1="2857.2" x2="1161.2" y2="2938.5" stroke="#000" stroke-width="3.2" stroke-linecap="butt"/>
<line x1="1140.7" y1="2857.2" x2="1181.7" y2="2857.2" stroke="#000" stroke-width="3.2" stroke-linecap="butt"/>
<line x1="1140.7" y1="2938.5" x2="1181.7" y2="2938.5" stroke="#000" stroke-width="3.2" stroke-linecap="butt"/>
<line x1="1281.8" y1="2957.8" x2="1281.8" y2="3024.8" stroke="#000" stroke-width="3.2" stroke-linecap="butt"/>
<line x1="1261.3" y1="2957.8" x2="1302.3" y2="2957.8" stroke="#000" stroke-width="3.2" stroke-linecap="butt"/>
<line x1="1261.3" y1="3024.8" x2="1302.3" y2="3024.8" stroke="#000" stroke-width="3.2" stroke-linecap="butt"/>
<line x1="1403.6" y1="2831.5" x2="1403.6" y2="2912.8" stroke="#000" stroke-width="3.2" stroke-linecap="butt"/>
<line x1="1383.1" y1="2831.5" x2="1424.1" y2="2831.5" stroke="#000" stroke-width="3.2" stroke-linecap="butt"/>
<line x1="1383.1" y1="2912.8" x2="1424.1" y2="2912.8" stroke="#000" stroke-width="3.2" stroke-linecap="butt"/>
<text x="1160.9" y="2835.2" font-size="44" text-anchor="middle" fill="#000">a</text>
<text x="1282.1" y="2939.9" font-size="44" text-anchor="middle" fill="#000">b</text>
<text x="1402.9" y="2813.6" font-size="44" text-anchor="middle" fill="#000">a</text>
<line x1="1160.4" y1="3378" x2="1160.4" y2="3403.5" stroke="#000" stroke-width="6.5" stroke-linecap="butt"/>
<text x="0" y="0" font-size="45" text-anchor="end" fill="#000" transform="translate(1175.3 3429.1) rotate(-51.7)">CK</text>
<line x1="1281.3" y1="3378" x2="1281.3" y2="3403.5" stroke="#000" stroke-width="6.5" stroke-linecap="butt"/>
<text x="0" y="0" font-size="45" text-anchor="end" fill="#000" transform="translate(1292.3 3433.7) rotate(-51.7)">D-gal</text>
<line x1="1403.1" y1="3378" x2="1403.1" y2="3403.5" stroke="#000" stroke-width="6.5" stroke-linecap="butt"/>
<text x="0" y="0" font-size="46.5" text-anchor="end" fill="#000" transform="translate(1426 3434.9) rotate(-51.7)">D-gal+Nob</text>
<text x="0" y="0" font-size="50" text-anchor="middle" fill="#000" transform="translate(952 3074.4) rotate(-90)">Grip strength (g)</text>
</svg>
</body></html>
